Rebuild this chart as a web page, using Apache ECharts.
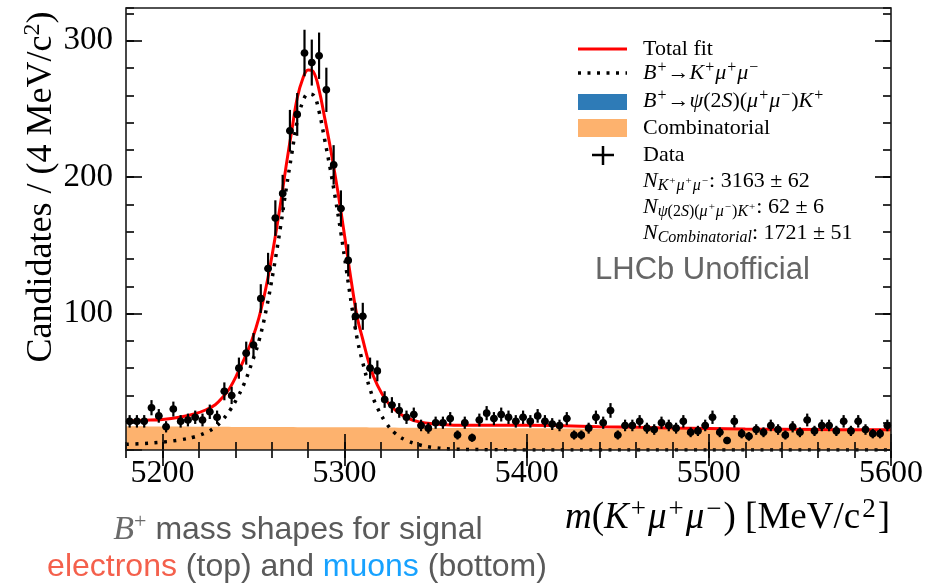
<!DOCTYPE html>
<html>
<head>
<meta charset="utf-8">
<script src="https://cdn.jsdelivr.net/npm/echarts@6/dist/echarts.min.js"></script>
<style>
  html, body { margin: 0; padding: 0; background: #fff; }
  #chart { width: 951px; height: 583px; }
</style>
</head>
<body>
<div id="chart"></div>
<script>
// ---- Binned data: B+ candidates per 4 MeV/c^2 ----
const binCenters = [
  5182,5186,5190,5194,5198,5202,5206,5210,5214,5218,
  5222,5226,5230,5234,5238,5242,5246,5250,5254,5258,
  5262,5266,5270,5274,5278,5282,5286,5290,5294,5298,
  5302,5306,5310,5314,5318,5322,5326,5330,5334,5338,
  5342,5346,5350,5354,5358,5362,5366,5370,5374,5378,
  5382,5386,5390,5394,5398,5402,5406,5410,5414,5418,
  5422,5426,5430,5434,5438,5442,5446,5450,5454,5458,
  5462,5466,5470,5474,5478,5482,5486,5490,5494,5498,
  5502,5506,5510,5514,5518,5522,5526,5530,5534,5538,
  5542,5546,5550,5554,5558,5562,5566,5570,5574,5578,
  5582,5586,5590,5594,5598
];
const counts = [
  21,21,21,31,25,17,30,21,22,24,
  22,28,24,43,40,60,71,77,111,133,
  170,188,234,246,291,284,289,264,209,177,
  139,98,98,60,58,37,33,29,24,26,
  18,16,20,20,23,11,20,9,22,27,
  23,26,24,21,24,21,25,21,19,18,
  23,11,11,16,24,20,29,11,18,18,
  21,16,15,20,18,16,21,13,14,18,
  24,13,7,21,12,10,15,13,18,15,
  11,17,13,22,14,18,18,14,21,14,
  21,15,12,12,18
];

// ---- Fit curves ----
const fitMass = [
  5180,5190,5200,5210,5218,5224,5229,5233,5237,5241,
  5245,5249,5253,5257,5261,5265,5268,5271,5274,5277,
  5280,5283,5286,5289,5292,5295,5298,5301,5304,5307,
  5310,5314,5318,5323,5328,5334,5341,5350,5360,5380,
  5400,5420,5440,5460,5480,5520,5560,5600
];
const totalFit = [
  21.3,21.8,22.4,24.2,26.6,29.5,33.2,38.5,45.5,55.5,
  67,80,97,120,149,182,209,234,258,272,
  278.5,277,264,244,223,200,175,148,121,97,
  81,61,47.5,36,29,23.8,20.6,19.0,18.2,18.1,
  18.1,17.8,17.1,16.6,16.1,15.4,15.0,14.8
];
const signalFit = [
  4.2,4.8,5.8,7.5,9.8,12.8,16.8,22,29,38,
  49,63.5,80,103,132,165,192,217,241,255,
  261,260,248,228,207,184,159,132,105,81,
  64,44.5,31,19.5,12,7,3.8,1.6,0.7,0.2,
  0.05,0.02,0,0,0,0,0,0
];

// ---- Background components ----
const bkgMass = [5180,5220,5260,5300,5330,5360,5380,5400,5420,5440,5460,5480,5520,5560,5600];
const combinatorial = [17.4,17.1,16.9,16.6,16.4,16.2,16.0,15.9,15.8,15.6,15.5,15.4,15.1,14.9,14.6];
const psi2S = [0,0,0,0.2,0.6,1.3,1.9,2.2,2.0,1.5,1.0,0.6,0.25,0.1,0.05];

// ---- Axis ticks ----
const xLabelValues = [5200, 5300, 5400, 5500, 5600];
const yLabelValues = [100, 200, 300];
const yMajorTicks = [0, 100, 200, 300];

const serif = "'Liberation Serif', 'Times New Roman', serif";
const sans = "'Liberation Sans', Arial, Helvetica, sans-serif";
const X_MIN = 5180, X_MAX = 5600, Y_MIN = 0, Y_MAX = 324;

const pairs = (xs, ys) => xs.map((x, i) => [x, ys[i]]);
const plain = v => String(v);

function xAxisDef(pos, major, labels) {
  const ax = {
    type: 'value', position: pos, min: X_MIN, max: X_MAX, z: 5,
    axisLine: { show: false }, splitLine: { show: false },
    axisTick: { inside: true, length: major ? 16 : 8, lineStyle: { color: '#000', width: 1.6 } },
    axisLabel: { show: false }
  };
  if (major) {
    ax.axisTick.customValues = xLabelValues;
    if (labels) {
      ax.axisLabel = { show: true, customValues: xLabelValues, margin: 8, formatter: plain,
        fontFamily: serif, fontSize: 32, color: '#000' };
    }
  } else {
    ax.interval = 20;
  }
  return ax;
}
function yAxisDef(pos, major, labels) {
  const ax = {
    type: 'value', position: pos, min: Y_MIN, max: Y_MAX, z: 5,
    axisLine: { show: false }, splitLine: { show: false },
    axisTick: { inside: true, length: major ? 16 : 8, lineStyle: { color: '#000', width: 1.6 } },
    axisLabel: { show: false }
  };
  if (major) {
    ax.axisTick.customValues = yMajorTicks;
    if (labels) {
      ax.axisLabel = { show: true, customValues: yLabelValues, margin: 13, formatter: plain,
        fontFamily: serif, fontSize: 33, color: '#000' };
    }
  } else {
    ax.interval = 20;
  }
  return ax;
}

// rich-text styles for the math-like labels
function mathRich(size, supRatio, pad) {
  const s = Math.round(size * supRatio), ss = Math.round(size * 0.5);
  const lh = Math.round(size * 1.2);
  return {
    r:    { fontFamily: serif, fontSize: size, lineHeight: lh, fill: '#000' },
    i:    { fontFamily: serif, fontSize: size, lineHeight: lh, fill: '#000', fontStyle: 'italic' },
    sup:  { fontFamily: serif, fontSize: s, lineHeight: s, fill: '#000', verticalAlign: 'top', padding: [0, pad] },
    sub:  { fontFamily: serif, fontSize: s, lineHeight: s, fill: '#000', verticalAlign: 'bottom', fontStyle: 'italic' },
    subr: { fontFamily: serif, fontSize: s, lineHeight: s, fill: '#000', verticalAlign: 'bottom' },
    ssup: { fontFamily: serif, fontSize: ss, lineHeight: ss, fill: '#000', verticalAlign: 'middle', padding: [0, 1] }
  };
}
const legRich = mathRich(22, 0.73, 1);

const legendTexts = [
  '{r|Total fit}',
  '{i|B}{sup|+}{r|→}{i|K}{sup|+}{i|μ}{sup|+}{i|μ}{sup|−}',
  '{i|B}{sup|+}{r|→}{i|ψ}{r|(2}{i|S}{r|)(}{i|μ}{sup|+}{i|μ}{sup|−}{r|)}{i|K}{sup|+}',
  '{r|Combinatorial}',
  '{r|Data}',
  '{i|N}{sub|K}{ssup|+}{sub|μ}{ssup|+}{sub|μ}{ssup|−}{r|: 3163 ± 62}',
  '{i|N}{sub|ψ}{subr|(2}{sub|S}{subr|)(}{sub|μ}{ssup|+}{sub|μ}{ssup|−}{subr|)}{sub|K}{ssup|+}{r|: 62 ± 6}',
  '{i|N}{sub|Combinatorial}{r|: 1721 ± 51}'
];
const legendY = [49, 73, 101, 128, 155, 181, 207, 233];

const COL_RED = '#ff0000';
const COL_ORANGE = '#fdb26e';
const COL_BLUE = '#2e7bb7';

const graphics = [];
// legend keys
graphics.push({ type: 'line', shape: { x1: 578, y1: legendY[0], x2: 627, y2: legendY[0] },
  style: { stroke: COL_RED, lineWidth: 3 } });
graphics.push({ type: 'line', shape: { x1: 578, y1: legendY[1], x2: 627, y2: legendY[1] },
  style: { stroke: '#000', lineWidth: 3.5, lineDash: [3, 6.5] } });
graphics.push({ type: 'rect', shape: { x: 578, y: 94, width: 49, height: 16 }, style: { fill: COL_BLUE } });
graphics.push({ type: 'rect', shape: { x: 578, y: 119, width: 49, height: 18 }, style: { fill: COL_ORANGE } });
graphics.push({ type: 'line', shape: { x1: 592, y1: legendY[4], x2: 614, y2: legendY[4] },
  style: { stroke: '#000', lineWidth: 2.5 } });
graphics.push({ type: 'line', shape: { x1: 603, y1: legendY[4] - 9, x2: 603, y2: legendY[4] + 10 },
  style: { stroke: '#000', lineWidth: 2.5 } });
legendTexts.forEach((t, k) => {
  graphics.push({ type: 'text', x: 643, y: legendY[k], z: 20,
    style: { text: t, rich: legRich, align: 'left', verticalAlign: 'middle' } });
});
graphics.push({ type: 'text', x: 595, y: 270,
  style: { text: 'LHCb Unofficial', fontFamily: sans, fontSize: 31, fill: '#666666',
    align: 'left', verticalAlign: 'middle' } });

// axis titles
const xTitleRich = mathRich(37, 0.72, 2);
const yTitleRich = mathRich(36, 0.68, 0);
graphics.push({ type: 'text', x: 890, y: 518,
  style: { text: '{i|m}{r|(}{i|K}{sup|+}{i|μ}{sup|+}{i|μ}{sup|−}{r|) [MeV/c}{sup|2}{r|]}',
    rich: xTitleRich, align: 'right', verticalAlign: 'middle' } });
graphics.push({ type: 'text', x: 42, y: 187, rotation: Math.PI / 2,
  style: { text: '{r|Candidates / (4 MeV/c}{sup|2}{r|)}', rich: yTitleRich,
    align: 'center', verticalAlign: 'middle' } });

// caption
const capRich = {
  g:    { fontFamily: sans, fontSize: 32, fill: '#5a5a5a' },
  bi:   { fontFamily: serif, fontSize: 34, fill: '#6a6a6a', fontStyle: 'italic', lineHeight: 38 },
  bsup: { fontFamily: serif, fontSize: 22, fill: '#6a6a6a', verticalAlign: 'top', lineHeight: 22 },
  red:  { fontFamily: sans, fontSize: 32, fill: '#f4604c' },
  blue: { fontFamily: sans, fontSize: 32, fill: '#17a2ff' }
};
graphics.push({ type: 'text', x: 298, y: 530,
  style: { text: '{bi|B}{bsup|+}{g| mass shapes for signal}', rich: capRich, align: 'center', verticalAlign: 'middle' } });
graphics.push({ type: 'text', x: 297, y: 567,
  style: { text: '{red|electrons}{g| (top) and }{blue|muons}{g| (bottom)}', rich: capRich, align: 'center', verticalAlign: 'middle' } });

const chart = echarts.init(document.getElementById('chart'), null, { renderer: 'canvas' });

chart.setOption({
  animation: false,
  backgroundColor: '#ffffff',
  grid: { left: 126, right: 60, top: 8, bottom: 133, show: true, z: 8,
    borderColor: '#1a1a1a', borderWidth: 1.6, backgroundColor: 'transparent' },
  xAxis: [
    xAxisDef('bottom', true, true),
    xAxisDef('bottom', false, false),
    xAxisDef('top', true, false),
    xAxisDef('top', false, false)
  ],
  yAxis: [
    yAxisDef('left', true, true),
    yAxisDef('left', false, false),
    yAxisDef('right', true, false),
    yAxisDef('right', false, false)
  ],
  series: [
    {
      name: 'Combinatorial', type: 'line', stack: 'bkg', z: 1,
      data: pairs(bkgMass, combinatorial), showSymbol: false, smooth: true,
      lineStyle: { width: 0 }, areaStyle: { color: COL_ORANGE, opacity: 1 }
    },
    {
      name: 'psi2S', type: 'line', stack: 'bkg', z: 1,
      data: pairs(bkgMass, psi2S), showSymbol: false, smooth: true,
      lineStyle: { width: 0 }, areaStyle: { color: COL_BLUE, opacity: 1 }
    },
    {
      name: 'Signal', type: 'line', z: 3,
      data: pairs(fitMass, signalFit), showSymbol: false, smooth: 0.4,
      lineStyle: { color: '#000', width: 3.5, type: [3, 6.5], cap: 'butt' }
    },
    {
      name: 'Total fit', type: 'line', z: 4,
      data: pairs(fitMass, totalFit), showSymbol: false, smooth: 0.4,
      lineStyle: { color: COL_RED, width: 3 }
    },
    {
      name: 'Data', type: 'custom', z: 10,
      data: binCenters.map((m, i) => [m, counts[i], Math.sqrt(counts[i])]),
      renderItem: function (params, api) {
        const m = api.value(0), n = api.value(1), e = api.value(2);
        const c = api.coord([m, n]);
        const hi = api.coord([m, n + e]);
        const lo = api.coord([m, Math.max(0, n - e)]);
        const l = api.coord([m - 2, n]);
        const r = api.coord([m + 2, n]);
        return {
          type: 'group',
          children: [
            { type: 'line', shape: { x1: c[0], y1: hi[1], x2: c[0], y2: lo[1] }, style: { stroke: '#000', lineWidth: 2.2 } },
            { type: 'line', shape: { x1: l[0], y1: c[1], x2: r[0], y2: c[1] }, style: { stroke: '#000', lineWidth: 2.2 } },
            { type: 'circle', shape: { cx: c[0], cy: c[1], r: 3.8 }, style: { fill: '#000' } }
          ]
        };
      }
    }
  ],
  graphic: graphics
});
</script>
</body>
</html>
